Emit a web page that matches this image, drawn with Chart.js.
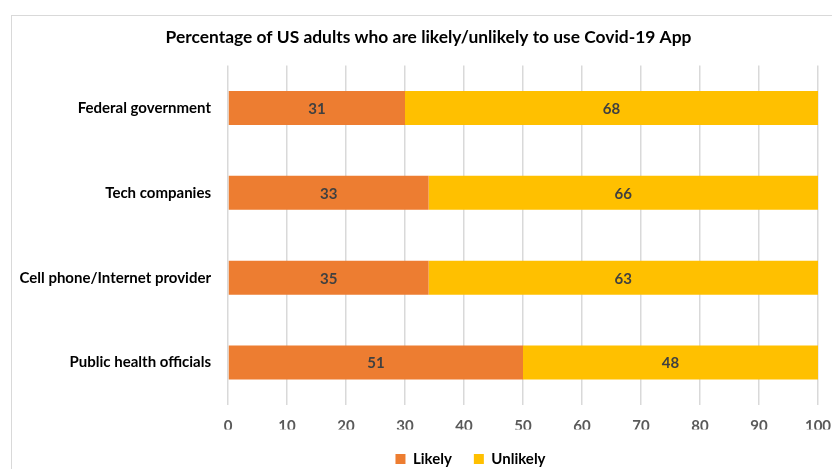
<!DOCTYPE html>
<html>
<head>
<meta charset="utf-8">
<script src="https://cdn.jsdelivr.net/npm/chart.js@4/dist/chart.umd.min.js"></script>
<style>
html,body{margin:0;padding:0;background:#fff;overflow:hidden;width:832px;height:469px;}
#frame{position:absolute;left:11px;top:15px;width:840px;height:470px;border:1px solid #d9d9d9;box-sizing:border-box;}
#wrap{position:absolute;left:11px;top:15px;width:840px;height:470px;}
</style>
</head>
<body>
<div id="frame"></div>
<div id="wrap"><canvas id="c" width="840" height="470"></canvas></div>
<script>
const categories = ["Federal government", "Tech companies", "Cell phone/Internet provider", "Public health officials"];
// bar lengths (100% stacked)
const likelyShare = [30, 34, 34, 50];
const unlikelyShare = [70, 66, 66, 50];
// printed data labels
const likelyLabels = [31, 33, 35, 51];
const unlikelyLabels = [68, 66, 63, 48];
const xTicks = [0, 10, 20, 30, 40, 50, 60, 70, 80, 90, 100];

const FONT = "Lato, 'Liberation Sans', sans-serif";

const labelPlugin = {
  id: 'barLabels',
  afterDatasetsDraw(chart) {
    const ctx = chart.ctx;
    ctx.save();
    ctx.font = "bold 15px " + FONT;
    ctx.fillStyle = '#404040';
    ctx.textAlign = 'center';
    ctx.textBaseline = 'middle';
    chart.data.datasets.forEach((ds, di) => {
      const meta = chart.getDatasetMeta(di);
      meta.data.forEach((el, i) => {
        const p = el.getCenterPoint();
        ctx.fillText(String(ds.labelsText[i]), p.x, p.y + 1);
      });
    });
    ctx.restore();
  }
};

const boxShift = {
  id: 'boxShift',
  afterLayout(chart) {
    if (chart.legend) { chart.legend.left += 56; chart.legend.right += 56; }
    if (chart.titleBlock) { chart.titleBlock.left += 14; chart.titleBlock.right += 14; }
  }
};

new Chart(document.getElementById('c'), {
  type: 'bar',
  data: {
    labels: categories,
    datasets: [
      { label: 'Likely', data: likelyShare, labelsText: likelyLabels, backgroundColor: '#ED7D31', categoryPercentage: 0.4, barPercentage: 1 },
      { label: 'Unlikely', data: unlikelyShare, labelsText: unlikelyLabels, backgroundColor: '#FFC000', categoryPercentage: 0.4, barPercentage: 1 }
    ]
  },
  options: {
    indexAxis: 'y',
    responsive: false,
    animation: false,
    layout: { padding: { top: 0, right: 33, bottom: 8.5, left: 0 } },
    plugins: {
      title: {
        display: true,
        text: 'Percentage of US adults who are likely/unlikely to use Covid-19 App',
        color: '#000',
        font: { family: FONT, size: 17.4, weight: 'bold' },
        padding: { top: 12, bottom: 17.6 }
      },
      legend: {
        position: 'bottom',
        labels: {
          color: '#000',
          font: { family: FONT, size: 15, weight: 'bold' },
          boxWidth: 10, boxHeight: 10, padding: 22
        }
      },
      tooltip: { enabled: false }
    },
    scales: {
      x: {
        stacked: true,
        min: 0, max: 100,
        afterBuildTicks(axis) { axis.ticks = xTicks.map(v => ({ value: v })); },
        afterFit(axis) { axis.height = 24.5; },
        grid: { color: '#d9d9d9', lineWidth: 1.5, drawTicks: false },
        border: { display: false },
        ticks: { color: '#595959', font: { family: FONT, size: 15, weight: 'bold' }, padding: 12.5, maxRotation: 0 }
      },
      y: {
        stacked: true,
        afterFit(axis) { axis.width = 217; },
        grid: { display: false, drawTicks: false },
        border: { display: false },
        ticks: { color: '#000', font: { family: FONT, size: 15, weight: 'bold' }, padding: 17 }
      }
    }
  },
  plugins: [labelPlugin, boxShift]
});
</script>
</body>
</html>
